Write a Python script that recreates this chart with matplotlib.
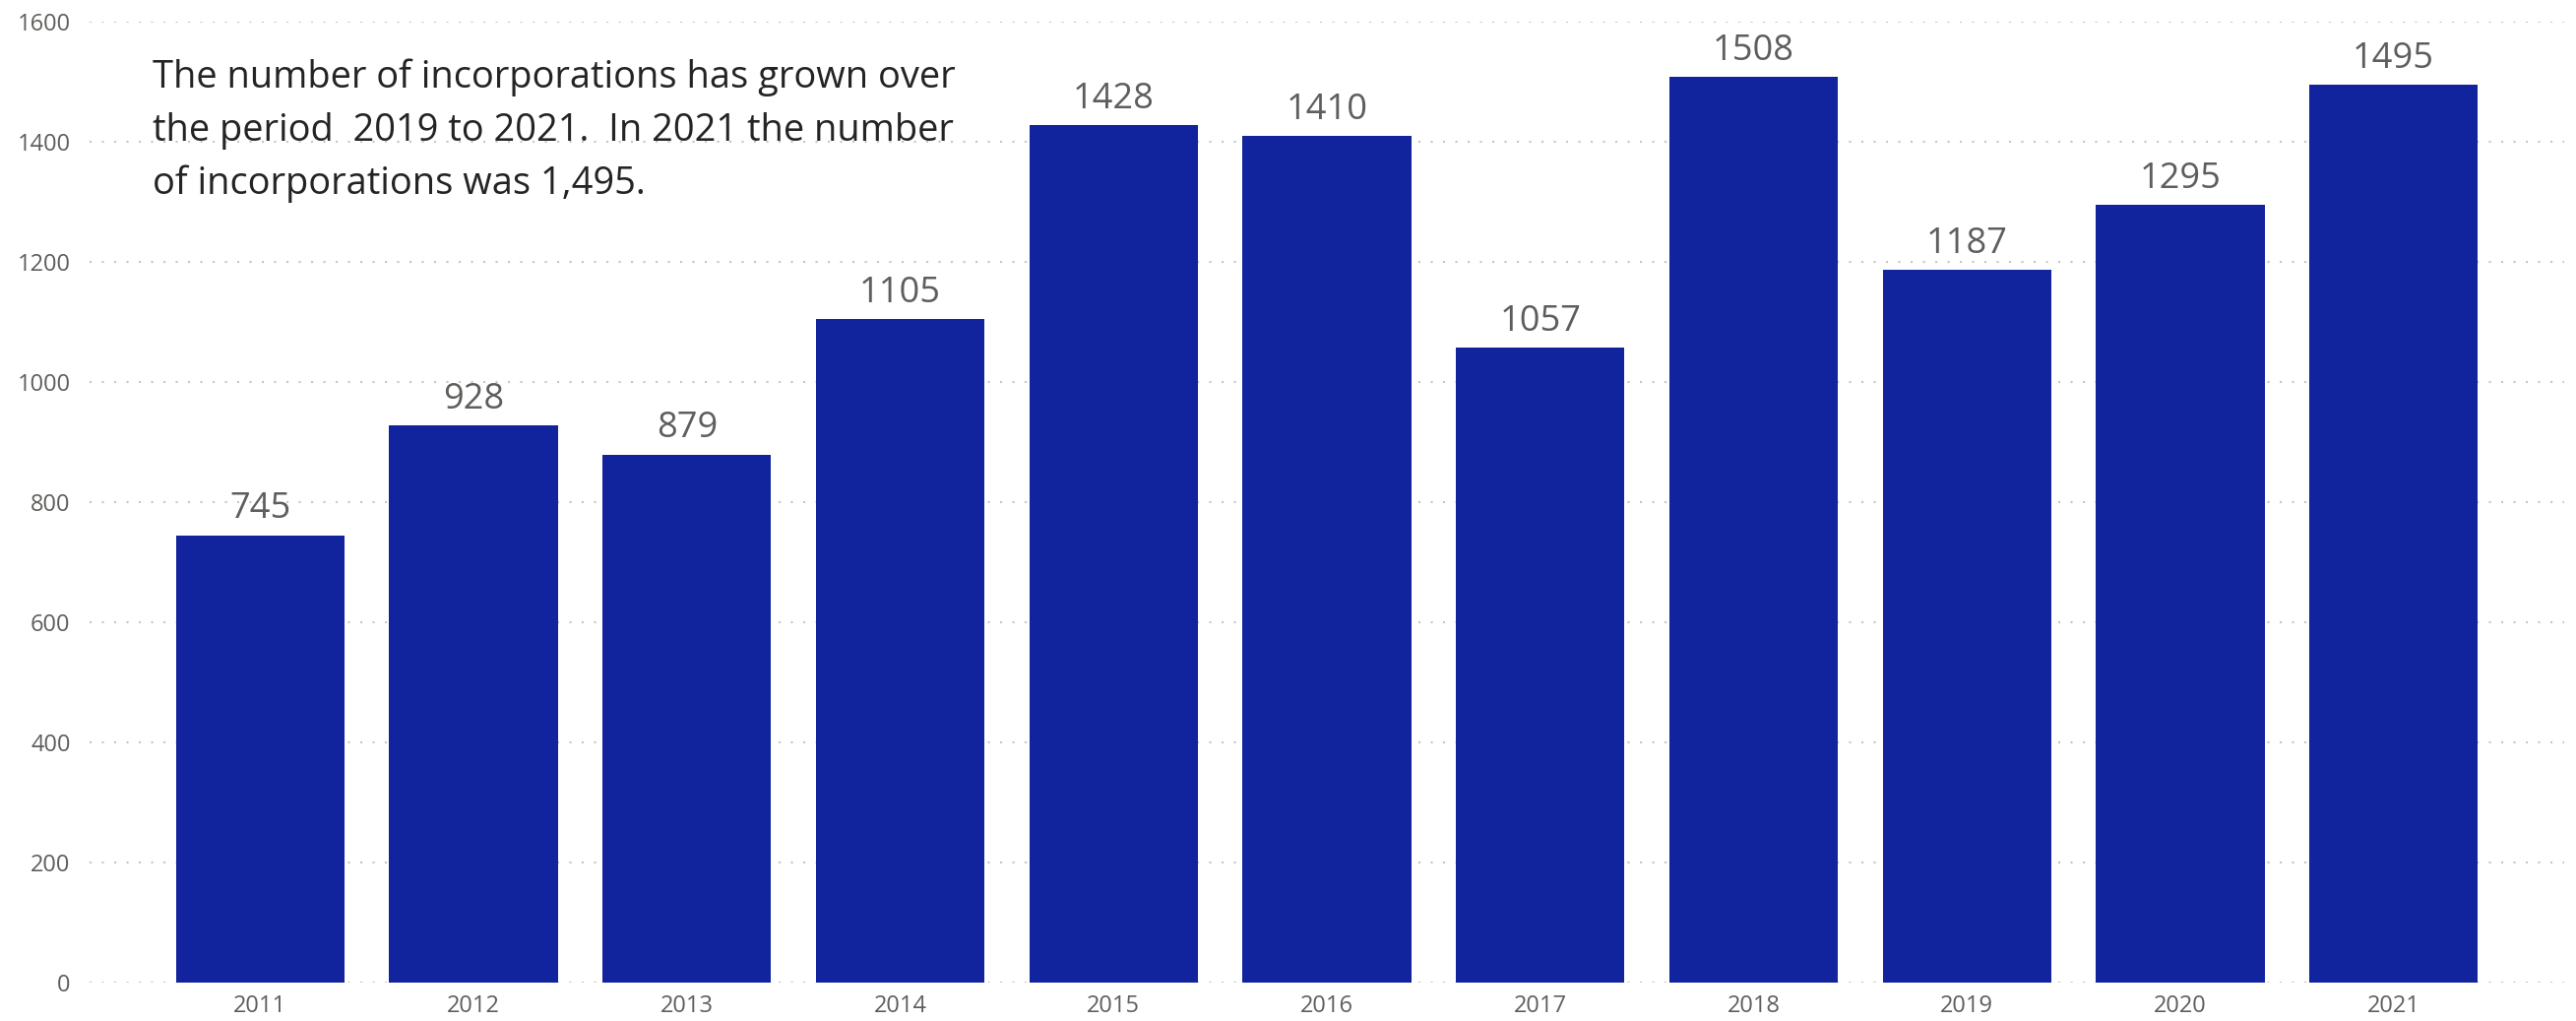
import matplotlib
matplotlib.use("Agg")
import matplotlib.pyplot as plt

years = ["2011", "2012", "2013", "2014", "2015", "2016", "2017", "2018", "2019", "2020", "2021"]
values = [745, 928, 879, 1105, 1428, 1410, 1057, 1508, 1187, 1295, 1495]
yticks = [0, 200, 400, 600, 800, 1000, 1200, 1400, 1600]
note = ("The number of incorporations has grown over\n"
        "the period  2019 to 2021.  In 2021 the number\n"
        "of incorporations was 1,495.")

plt.rcParams['font.family'] = ['Open Sans', 'DejaVu Sans']

W, H = 2617, 1037
fig = plt.figure(figsize=(W / 100, H / 100), dpi=100)
ax = fig.add_axes([91 / W, 1 - 998 / H, (2605 - 91) / W, (998 - 22) / H])

x = list(range(len(years)))
bars = ax.bar(x, values, width=0.79, color="#12239E", zorder=2)

ax.set_xlim(-0.8, len(years) - 0.2)
ax.set_ylim(0, 1600)
ax.set_yticks(yticks)
ax.set_yticklabels([str(t) for t in yticks])
ax.set_xticks(x)
ax.set_xticklabels(years)

for s in ax.spines.values():
    s.set_visible(False)
ax.tick_params(axis="both", length=0, colors="#605E5C", labelsize=17)
ax.tick_params(axis="y", pad=14)
ax.tick_params(axis="x", pad=9)
ax.yaxis.grid(True, color="#C8C6C4", linestyle=(0, (1, 5)), linewidth=1.5, zorder=0)
ax.set_axisbelow(True)

for xi, v in zip(x, values):
    ax.annotate(str(v), (xi, v), xytext=(0, 6), textcoords="offset points",
                ha="center", va="bottom", fontsize=26, color="#605E5C")

fig.text(155 / W, 1 - 59 / H, note, ha="left", va="top", fontsize=27.4,
         color="#252423", linespacing=1.55)

fig.savefig("out.png", dpi=100, facecolor="white")
